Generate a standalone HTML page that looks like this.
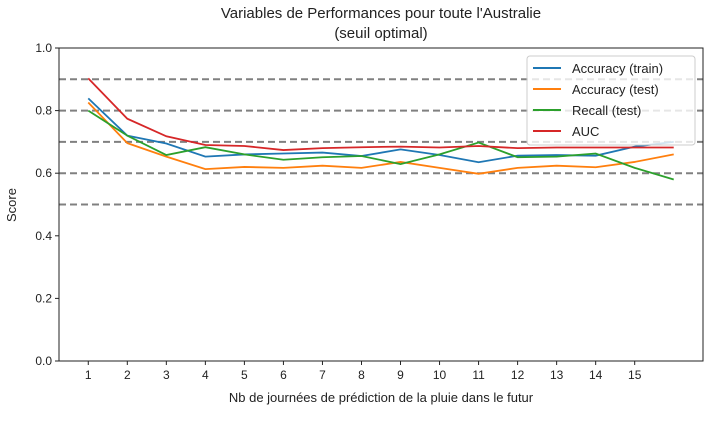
<!DOCTYPE html>
<html><head><meta charset="utf-8"><style>
body{margin:0;background:#fff;}
svg text{font-family:"Liberation Sans","DejaVu Sans",sans-serif;fill:#222;}
</style></head><body>
<svg id="chart" width="717" height="421" viewBox="0 0 717 421" xmlns="http://www.w3.org/2000/svg">
<rect width="717" height="421" fill="#fff"/>
<text x="381" y="18" font-size="15" text-anchor="middle">Variables de Performances pour toute l'Australie</text>
<text x="381" y="38" font-size="15" text-anchor="middle">(seuil optimal)</text>
<text x="0" y="0" font-size="13" text-anchor="middle" transform="translate(16,205) rotate(-90)">Score</text>
<text x="381" y="402" font-size="13" text-anchor="middle">Nb de journées de prédiction de la pluie dans le futur</text>
<g id="grid"></g><g id="series"></g><g id="axes"></g><g id="legend"></g>
</svg>
<script>
const days=[1,2,3,4,5,6,7,8,9,10,11,12,13,14,15,16];
const xTicks=[1,2,3,4,5,6,7,8,9,10,11,12,13,14,15];
const yTicks=[0.0,0.2,0.4,0.6,0.8,1.0];
const hLines=[0.5,0.6,0.7,0.8,0.9];
const accTrain=[0.839,0.72,0.695,0.653,0.66,0.663,0.666,0.655,0.676,0.658,0.635,0.656,0.658,0.656,0.685,0.70];
const accTest=[0.826,0.696,0.653,0.613,0.62,0.617,0.624,0.617,0.636,0.617,0.598,0.617,0.624,0.619,0.636,0.66];
const recall=[0.80,0.72,0.658,0.683,0.66,0.643,0.651,0.655,0.629,0.66,0.698,0.651,0.653,0.663,0.617,0.58];
const auc=[0.903,0.774,0.718,0.69,0.687,0.674,0.68,0.683,0.685,0.682,0.687,0.68,0.682,0.682,0.682,0.682];
const seriesNames=["Accuracy (train)","Accuracy (test)","Recall (test)","AUC"];
const seriesData=[accTrain,accTest,recall,auc];
const colors=["#1f77b4","#ff7f0e","#2ca02c","#d62728"];
const L=59,R=703,T=48,B=361;
const xs=v=>L+(v-0.25)/16.5*(R-L);
const ys=v=>B-v*(B-T);
const NS="http://www.w3.org/2000/svg";
function mk(tag,attrs,parent){const e=document.createElementNS(NS,tag);for(const k in attrs)e.setAttribute(k,attrs[k]);parent.appendChild(e);return e;}
const grid=document.getElementById('grid'),ser=document.getElementById('series'),ax=document.getElementById('axes'),lg=document.getElementById('legend');
hLines.forEach(h=>{const l=mk('line',{x1:L,x2:R,y1:ys(h),y2:ys(h),stroke:'#808080','stroke-width':2,'stroke-dasharray':'7,4'},grid);

});
seriesData.forEach((d,i)=>{const p=mk('polyline',{points:d.map((v,j)=>xs(days[j])+','+ys(v)).join(' '),fill:'none',stroke:colors[i],'stroke-width':1.8},ser);

});
const fr=mk('rect',{x:L,y:T,width:R-L,height:B-T,fill:'none',stroke:'#222','stroke-width':1},ax);


xTicks.forEach(t=>{mk('line',{x1:xs(t),x2:xs(t),y1:B,y2:B+4,stroke:'#222'},ax);
const tx=mk('text',{x:xs(t),y:B+18,'font-size':12,'text-anchor':'middle'},ax);tx.textContent=t;

});
yTicks.forEach(t=>{mk('line',{x1:L-4,x2:L,y1:ys(t),y2:ys(t),stroke:'#222'},ax);
const tx=mk('text',{x:L-7,y:ys(t)+4,'font-size':12,'text-anchor':'end'},ax);tx.textContent=t.toFixed(1);

});
const box=mk('rect',{x:527,y:56,width:168,height:89,fill:'#fff','fill-opacity':0.8,stroke:'#ccc',rx:3},lg);


seriesNames.forEach((n,i)=>{const y=68+i*21;
mk('line',{x1:533,x2:561,y1:y,y2:y,stroke:colors[i],'stroke-width':2},lg);
const tx=mk('text',{x:572,y:y+5,'font-size':13},lg);tx.textContent=n;

});
</script>
</body></html>
